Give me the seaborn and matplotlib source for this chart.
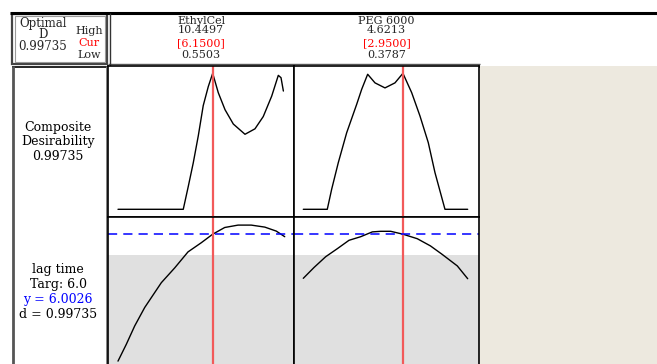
import numpy as np
import pandas as pd
import matplotlib
matplotlib.use("Agg")
import matplotlib.pyplot as plt
import seaborn as sns
from matplotlib.patches import Rectangle

sns.set_theme(style="white")
plt.rcParams['font.family'] = ['DejaVu Serif']

# ---------------- data ----------------
factors = ["EthylCel", "PEG 6000"]
high = [10.4497, 4.6213]
cur = [6.1500, 2.9500]
low = [0.5503, 0.3787]

# composite desirability vs EthylCel
ec_d_x = [0.5503, 4.41, 4.71, 5.00, 5.30, 5.59, 5.89, 6.15, 6.48, 6.88, 7.37,
          8.06, 8.65, 9.14, 9.64, 10.03, 10.19, 10.33]
ec_d_y = [0.0, 0.0, 0.17, 0.34, 0.54, 0.76, 0.90, 0.997, 0.855, 0.73, 0.625,
          0.55, 0.59, 0.68, 0.83, 0.982, 0.965, 0.867]
# composite desirability vs PEG 6000
peg_d_x = [0.3787, 0.998, 1.111, 1.282, 1.498, 1.757, 1.886, 2.04, 2.229, 2.487,
           2.745, 2.95, 3.176, 3.39, 3.604, 3.777, 4.035, 4.6213]
peg_d_y = [0.0, 0.0, 0.147, 0.342, 0.561, 0.77, 0.88, 0.99, 0.927, 0.89,
           0.927, 0.997, 0.855, 0.684, 0.489, 0.269, 0.0, 0.0]
# lag time vs EthylCel
ec_y_x = [0.5503, 1.041, 1.538, 2.129, 3.111, 3.903, 4.69, 5.477, 6.15, 6.86,
          7.65, 8.43, 9.23, 9.91, 10.41]
ec_y_y = [2.83, 3.25, 3.71, 4.17, 4.79, 5.16, 5.56, 5.79, 6.0026, 6.17,
          6.23, 6.23, 6.18, 6.08, 5.94]
# lag time vs PEG 6000
peg_y_x = [0.3787, 0.655, 0.957, 1.256, 1.558, 1.86, 2.159, 2.376, 2.634, 2.95,
           3.32, 3.66, 3.96, 4.353, 4.6213]
peg_y_y = [4.90, 5.17, 5.44, 5.64, 5.85, 5.94, 6.06, 6.075, 6.075, 6.0026,
           5.89, 5.71, 5.50, 5.21, 4.89]

target = 6.0
lower_bound = 5.475

# ---------------- figure ----------------
W, H = 657, 364
fig = plt.figure(figsize=(W / 100, H / 100), dpi=100, facecolor="white")

# overlay in pixel coordinates
ov = fig.add_axes([0, 0, 1, 1], zorder=0)
ov.set_xlim(0, W)
ov.set_ylim(H, 0)
ov.axis("off")

beige = "#ede9df"
ov.add_patch(Rectangle((480, 66), W - 480, H - 66, facecolor=beige, edgecolor="none"))

def hl(y, x0, x1, lw=1.2, c="black"):
    ov.plot([x0, x1], [y, y], color=c, lw=lw, solid_capstyle="butt")

def vl(x, y0, y1, lw=1.2, c="black"):
    ov.plot([x, x], [y0, y1], color=c, lw=lw, solid_capstyle="butt")

hl(12.5, 10, W, lw=2.2)
# left header box (double frame)
ov.add_patch(Rectangle((12, 13.5), 95, 50, facecolor="none", edgecolor="#444444", lw=1.6))
ov.add_patch(Rectangle((14.5, 15.5), 90, 46, facecolor="none", edgecolor="#9a9a9a", lw=0.8))
hl(64, 108, 480, lw=1.0, c="#555555")
hl(66.5, 12, 480, lw=1.2)
# left label column
vl(12.5, 66, H, lw=2.0, c="#555555")
vl(107, 66, H, lw=2.0, c="#777777")
vl(109.5, 13, H, lw=1.0, c="#333333")

red = "#f25a5a"

# header texts
fs = 8
ov.text(43, 35, "Optimal\nD\n0.99735", ha="center", va="center", fontsize=8.5,
        linespacing=0.88, multialignment="center")
ov.text(89, 31.5, "High", ha="center", va="center", fontsize=fs)
ov.text(89, 43.3, "Cur", ha="center", va="center", fontsize=fs, color="red")
ov.text(89, 55.3, "Low", ha="center", va="center", fontsize=fs)

col_centers = [201, 386.5]
for i, cx in enumerate(col_centers):
    ov.text(cx, 25.8, f"{factors[i]}\n{high[i]:.4f}", ha="center", va="center",
            fontsize=fs, linespacing=0.92, multialignment="center")
    ov.text(cx, 43.3, f"[{cur[i]:.4f}]", ha="center", va="center", fontsize=fs, color="red")
    ov.text(cx, 55.3, f"{low[i]:.4f}", ha="center", va="center", fontsize=fs)

# row labels
for y, t, c in [(128, "Composite", "black"), (142, "Desirability", "black"),
                (156.5, "0.99735", "black"),
                (270, "lag time", "black"), (284.5, "Targ: 6.0", "black"),
                (299.5, "y = 6.0026", "blue"), (314.5, "d = 0.99735", "black")]:
    ov.text(58, y, t, ha="center", va="center", fontsize=9, color=c)

# ---------------- panels ----------------
def px_axes(x0, y0, x1, y1):
    return fig.add_axes([x0 / W, 1 - y1 / H, (x1 - x0) / W, (y1 - y0) / H], zorder=2)

xlims = [(-0.041, 10.958), (0.139, 4.926)]
dlim = (-0.0528, 1.0506)
ylim = (2.633, 6.445)

top_data = [(ec_d_x, ec_d_y), (peg_d_x, peg_d_y)]
bot_data = [(ec_y_x, ec_y_y), (peg_y_x, peg_y_y)]
edges = [(108, 294), (294, 479.5)]

for i in range(2):
    x0, x1 = edges[i]
    # top row: composite desirability
    ax = px_axes(x0, 66, x1, 216.5)
    ax.set_facecolor("white")
    df = pd.DataFrame({"x": top_data[i][0], "d": top_data[i][1]})
    sns.lineplot(data=df, x="x", y="d", ax=ax, color="black", lw=1.0,
                 estimator=None, sort=False)
    ax.axvline(cur[i], color=red, lw=1.6)
    ax.set_xlim(*xlims[i])
    ax.set_ylim(*dlim)
    ax.set_xticks([]); ax.set_yticks([])
    ax.set_xlabel(""); ax.set_ylabel("")
    for s in ax.spines.values():
        s.set_color("black"); s.set_linewidth(1.2); s.set_visible(True)

    # bottom row: lag time
    ax2 = px_axes(x0, 216.5, x1, H + 5)
    ax2.set_facecolor("white")
    ax2.axhspan(ylim[0], lower_bound, color="#e0e0e0", lw=0, zorder=0)
    df2 = pd.DataFrame({"x": bot_data[i][0], "y": bot_data[i][1]})
    sns.lineplot(data=df2, x="x", y="y", ax=ax2, color="black", lw=1.0,
                 estimator=None, sort=False)
    ax2.axvline(cur[i], color=red, lw=1.6)
    ax2.axhline(target, color="blue", lw=1.1, ls=(0, (6, 4)))
    ax2.set_xlim(*xlims[i])
    ax2.set_ylim(*ylim)
    ax2.set_xticks([]); ax2.set_yticks([])
    ax2.set_xlabel(""); ax2.set_ylabel("")
    for s in ax2.spines.values():
        s.set_color("black"); s.set_linewidth(1.2); s.set_visible(True)

fig.savefig("out.png", dpi=100, facecolor="white")
